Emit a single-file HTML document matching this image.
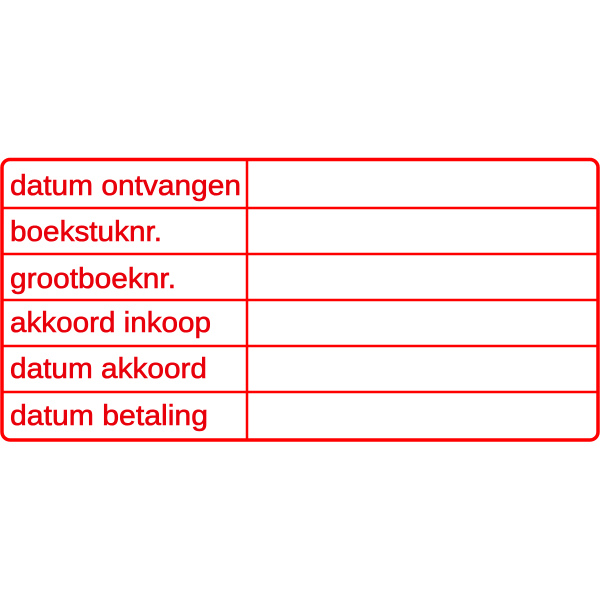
<!DOCTYPE html>
<html><head><style>html,body{margin:0;padding:0;background:#fff;width:600px;height:600px;overflow:hidden}</style></head>
<body>
<svg width="600" height="600" viewBox="0 0 600 600" xmlns="http://www.w3.org/2000/svg">
<rect x="2" y="159.5" width="596" height="280.5" rx="8" fill="none" stroke="#f00" stroke-width="3.5"/>
<g stroke="#f00" stroke-width="2.5">
<line x1="2" y1="208" x2="598" y2="208"/>
<line x1="2" y1="254" x2="598" y2="254"/>
<line x1="2" y1="300" x2="598" y2="300"/>
<line x1="2" y1="346" x2="598" y2="346"/>
<line x1="2" y1="392" x2="598" y2="392"/>
<line x1="247" y1="160" x2="247" y2="439"/>
</g>
<g fill="#e8000b" stroke="#e8000b" stroke-width="0.6" font-family="Liberation Sans, sans-serif" font-size="29">
<text x="10" y="195" textLength="231" lengthAdjust="spacingAndGlyphs">datum ontvangen</text>
<text x="10" y="241" textLength="152" lengthAdjust="spacingAndGlyphs">boekstuknr.</text>
<text x="10" y="288" textLength="166" lengthAdjust="spacingAndGlyphs">grootboeknr.</text>
<text x="10" y="332" textLength="201" lengthAdjust="spacingAndGlyphs">akkoord inkoop</text>
<text x="10" y="378" textLength="197" lengthAdjust="spacingAndGlyphs">datum akkoord</text>
<text x="10" y="425" textLength="198" lengthAdjust="spacingAndGlyphs">datum betaling</text>
</g>
</svg>
</body></html>
